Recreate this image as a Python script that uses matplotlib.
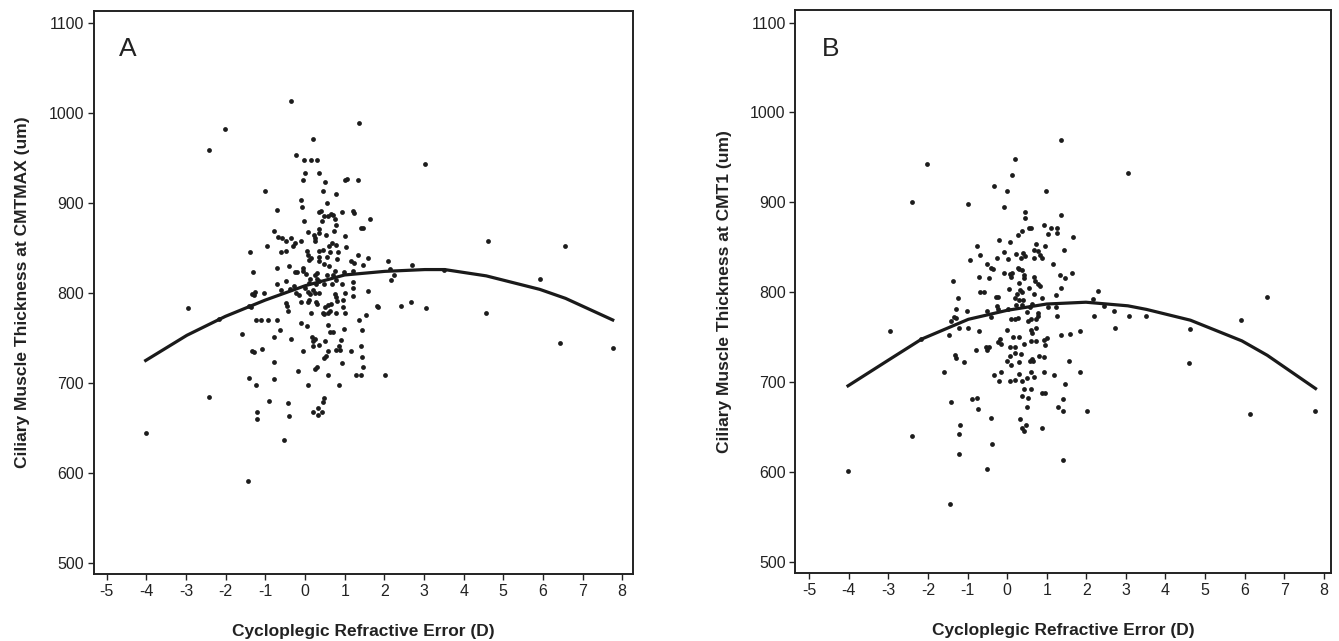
import numpy as np
import matplotlib
matplotlib.use("Agg")
import matplotlib.pyplot as plt

plt.rcParams["font.family"] = ["Liberation Sans", "DejaVu Sans"]
plt.rcParams["axes.unicode_minus"] = False

# Panel A data: refractive error (D) vs CMTMAX (um) -------------------------
a_refr = [
    -0.35, -2.03, -2.42, 1.35, 0.20, -0.22, -0.03, 0.15, 0.29, 3.03, 0.00, 0.36,
    -0.05, 0.51, 1.06, 1.02, 1.34, -1.00, 0.46, 0.77, -0.10, -0.07, 0.55, -0.71,
    0.36, 0.40, 0.93, 1.21, 1.24, 1.65, -0.02, 0.43, 0.66, 0.70, 0.47, 0.57,
    0.76, 0.78, -0.79, 0.07, 0.35, 0.35, 0.52, 0.22, 0.26, -0.67, -0.58, -0.49,
    -0.36, -0.25, -0.30, 0.67, 0.61, 1.01, 1.40, 1.45, 0.73, -0.11, -0.95, 0.77,
    0.24, -1.38, -0.61, -0.49, 0.04, 0.35, 0.45, 0.63, 1.03, 0.07, 0.16, 0.09,
    0.36, 0.34, 0.55, 0.82, 1.33, 1.60, 2.10, -0.71, -0.40, -0.04, 0.48, 0.61,
    0.80, 1.47, 1.17, 1.24, 2.70, -1.32, -0.26, -0.21, -0.04, 0.02, 0.24, 0.31,
    0.55, 0.99, 0.76, 0.70, 1.21, 2.15, -0.71, -0.49, -0.27, 0.09, 0.13, 0.31,
    0.36, 0.28, 0.48, 0.67, 0.77, 0.93, 1.20, 2.16, 2.25, 3.51, -1.33, -1.26,
    -1.30, -1.03, -0.60, -0.37, -0.22, -0.15, 0.00, 0.07, 0.12, 0.21, 0.24, 0.35,
    0.75, 1.01, 1.21, 1.58, 1.22, -1.41, -1.37, -0.47, -0.45, -0.10, 0.07, 0.09,
    0.28, 0.31, 0.50, 0.57, 0.78, 0.80, 0.95, 0.65, 0.96, 1.82, 1.83, 2.42,
    2.67, 3.05, -2.95, -2.16, -0.42, 0.15, 0.44, 0.48, 0.59, 0.62, 0.77, 1.02,
    1.54, 1.36, 4.57, -1.24, -1.10, -0.93, -0.71, -0.10, 0.04, 0.57, -0.62, 0.98,
    1.43, -1.60, -0.78, 0.17, 0.63, 0.71, -0.36, 0.90, 0.26, 0.19, 6.43, 7.76,
    -1.08, 0.21, 0.34, 0.86, 0.88, 1.42, 0.50, -1.33, -1.29, -0.04, 0.59, 1.16,
    0.79, 0.53, 0.49, 1.44, -0.79, 0.92, 0.30, 0.26, 1.47, -0.19, 0.57, 1.28,
    1.42, 2.01, -1.41, -0.78, -1.24, 0.07, 0.85, -2.42, -0.91, 0.48, 0.45, -0.44,
    0.33, 0.19, -1.22, 0.42, -1.22, -0.40, 0.33, -0.52, -4.02, -1.44, 4.62, 5.92,
    6.55,
]
a_cmtmax = [
    1013, 982, 959, 989, 971, 953, 948, 948, 948, 943, 933, 933,
    925, 923, 927, 926, 926, 913, 913, 910, 903, 896, 900, 892,
    890, 891, 890, 891, 889, 882, 880, 880, 888, 887, 885, 885,
    882, 875, 869, 868, 871, 867, 864, 864, 861, 862, 861, 858,
    861, 856, 852, 855, 852, 863, 872, 872, 869, 858, 852, 853,
    858, 845, 845, 847, 847, 847, 848, 845, 851, 842, 839, 837,
    840, 836, 840, 846, 842, 839, 836, 828, 830, 828, 832, 830,
    838, 831, 835, 833, 831, 823, 823, 823, 824, 821, 820, 822,
    820, 823, 824, 820, 824, 827, 810, 813, 808, 811, 815, 816,
    813, 810, 810, 810, 814, 810, 812, 814, 820, 826, 799, 801,
    798, 800, 803, 804, 800, 798, 805, 801, 799, 803, 800, 800,
    799, 800, 797, 802, 806, 785, 784, 789, 785, 790, 790, 792,
    790, 788, 784, 787, 796, 791, 792, 788, 784, 786, 784, 785,
    790, 783, 783, 771, 780, 778, 778, 777, 778, 780, 778, 778,
    775, 770, 778, 770, 770, 770, 770, 767, 763, 764, 759, 760,
    759, 754, 751, 751, 757, 757, 749, 748, 749, 747, 744, 739,
    738, 741, 742, 741, 737, 741, 747, 736, 734, 736, 735, 735,
    737, 730, 728, 729, 723, 722, 718, 715, 718, 713, 709, 709,
    709, 709, 705, 704, 698, 698, 698, 684, 680, 683, 679, 678,
    672, 668, 668, 668, 660, 663, 664, 637, 644, 591, 858, 815,
    852,
]
a_fit_x = [-4.02, -2.98, -2.01, -1.01, 0.0, 1.0, 2.01, 3.02, 3.52, 4.57, 5.92, 6.57, 7.76]
a_fit_y = [725, 753, 774, 792, 808, 820, 824, 826, 826, 819, 804, 794, 770]

# Panel B data: refractive error (D) vs CMT1 (um) ---------------------------
b_refr = [
    1.37, 0.21, -2.03, 3.05, 0.12, -0.33, 0.00, 0.99, -2.41, -1.00, -0.08, 1.35,
    0.46, 0.46, 0.92, 1.11, 1.25, 0.59, 0.56, 0.38, 1.26, 1.03, 0.27, 1.66,
    -0.21, 0.08, -0.76, 0.96, 0.72, 0.69, 0.77, 1.44, -0.08, -0.68, 0.23, 0.40,
    0.46, 0.82, 0.87, 0.35, -0.95, -0.25, 0.02, 0.67, -0.51, -0.41, 0.27, 0.31,
    0.37, 1.17, -0.36, -0.09, 0.07, 0.12, 0.10, 0.42, 0.42, 0.68, -0.71, -0.47,
    1.63, 1.34, 1.46, -1.37, 0.70, 0.77, 0.30, 0.05, 0.56, 1.37, 2.29, -0.68,
    -0.58, 0.32, 0.38, 0.82, -1.25, -0.22, 0.19, 0.24, 1.23, 2.17, 6.57, 0.67,
    -0.29, 0.30, 0.39, 0.88, 0.23, -0.26, -0.22, 0.38, -1.30, 0.03, 0.63, 0.57,
    1.03, 1.24, -1.02, -0.50, 2.69, 2.44, 0.77, 0.49, -1.34, -1.30, -0.41, 0.10,
    0.19, 0.27, 0.53, 0.59, 0.73, 0.78, 1.26, 2.19, 3.08, 3.52, 5.90, -1.43,
    -2.17, -2.95, -1.22, -0.98, 0.00, 0.61, 0.72, -0.71, 4.63, 1.85, -1.47, 0.64,
    1.60, -0.18, 0.16, 0.92, 1.00, 0.31, 1.37, -0.24, -0.16, 0.59, 0.73, 0.43,
    -0.53, -0.51, -0.47, -0.78, 0.08, 0.21, 0.96, 0.20, 0.07, 0.34, 0.80, 0.62,
    -1.33, -1.30, 0.93, 1.56, 0.30, 0.57, 0.65, -1.08, 0.00, 0.10, 4.60, -1.60,
    1.85, -0.33, -0.15, 0.29, 0.59, 0.93, 1.18, 0.67, 0.51, -0.21, 0.08, 0.21,
    0.38, 1.45, 0.42, 0.61, 0.88, 0.95, 0.37, 0.52, -1.41, -0.89, -0.77, 1.40,
    -0.74, 0.51, 1.29, 1.42, 2.01, 6.13, -0.41, 0.32, -1.20, 0.47, -1.21, 0.38,
    0.42, 0.88, -2.40, -0.39, -1.21, 1.42, -0.50, -4.02, -1.44, 7.77, 2.72,
]
b_cmt1 = [
    969, 948, 943, 933, 931, 918, 913, 913, 900, 898, 895, 886,
    889, 883, 875, 872, 872, 872, 871, 868, 866, 865, 864, 862,
    858, 856, 851, 851, 854, 847, 846, 847, 845, 841, 843, 844,
    840, 842, 838, 838, 836, 838, 837, 838, 831, 827, 827, 826,
    825, 831, 826, 821, 820, 821, 817, 819, 816, 817, 817, 816,
    822, 819, 816, 813, 813, 809, 810, 804, 805, 805, 802, 800,
    800, 803, 800, 807, 794, 795, 794, 798, 797, 793, 795, 798,
    795, 791, 791, 794, 786, 785, 782, 786, 782, 782, 787, 784,
    784, 784, 779, 779, 779, 785, 777, 778, 773, 772, 773, 770,
    770, 772, 768, 770, 770, 774, 774, 774, 774, 774, 769, 768,
    748, 757, 760, 760, 758, 758, 760, 757, 759, 757, 753, 755,
    754, 748, 750, 747, 749, 750, 752, 745, 743, 746, 746, 743,
    739, 736, 739, 736, 739, 739, 741, 732, 729, 731, 729, 726,
    730, 727, 728, 724, 722, 724, 724, 722, 724, 719, 721, 711,
    711, 708, 711, 709, 711, 711, 708, 706, 705, 701, 701, 703,
    701, 698, 693, 693, 688, 688, 685, 683, 678, 681, 682, 681,
    670, 672, 673, 668, 668, 665, 660, 659, 653, 653, 643, 649,
    646, 649, 640, 631, 620, 614, 603, 601, 565, 668, 760,
]
b_fit_x = [-4.02, -2.95, -2.16, -0.98, 0.0, 1.0, 1.99, 3.05, 3.52, 4.63, 5.93, 6.57, 7.79]
b_fit_y = [696, 726, 748, 770, 780, 787, 789, 785, 781, 769, 746, 730, 693]

x_ticks = list(range(-5, 9))
y_ticks = list(range(500, 1101, 100))

# Figure -----------------------------------------------------------------------
fig = plt.figure(figsize=(13.39, 6.41), dpi=100)
ax1 = fig.add_axes([0.070, 0.1045, 0.403, 0.879])
ax2 = fig.add_axes([0.594, 0.1060, 0.400, 0.878])

panels = [
    (ax1, a_refr, a_cmtmax, a_fit_x, a_fit_y, "A",
     "Ciliary Muscle Thickness at CMTMAX (um)", (-5.33, 8.28)),
    (ax2, b_refr, b_cmt1, b_fit_x, b_fit_y, "B",
     "Ciliary Muscle Thickness at CMT1 (um)", (-5.35, 8.18)),
]

for ax, xs, ys, fx, fy, letter, ylab, xlim in panels:
    ax.scatter(xs, ys, s=12, color="#1c1c1c", linewidths=0, zorder=3)
    ax.plot(fx, fy, color="#1a1a1a", lw=2.3, zorder=4)
    ax.set_xlim(*xlim)
    ax.set_ylim(487.8, 1113.7)
    ax.set_xticks(x_ticks)
    ax.set_yticks(y_ticks)
    ax.tick_params(direction="out", length=4, width=1, labelsize=11.5,
                   colors="#222222", pad=3)
    for sp in ax.spines.values():
        sp.set_linewidth(1.4)
        sp.set_color("#222222")
    ax.set_xlabel("Cycloplegic Refractive Error (D)", fontsize=12.5,
                  fontweight="bold", color="#222222", labelpad=18)
    ax.set_ylabel(ylab, fontsize=12.5, fontweight="bold", color="#222222",
                  labelpad=13)
    ax.text(-4.69, 1063, letter, fontsize=19, color="#222222",
            ha="left", va="baseline")

fig.savefig("out.png", dpi=100)
